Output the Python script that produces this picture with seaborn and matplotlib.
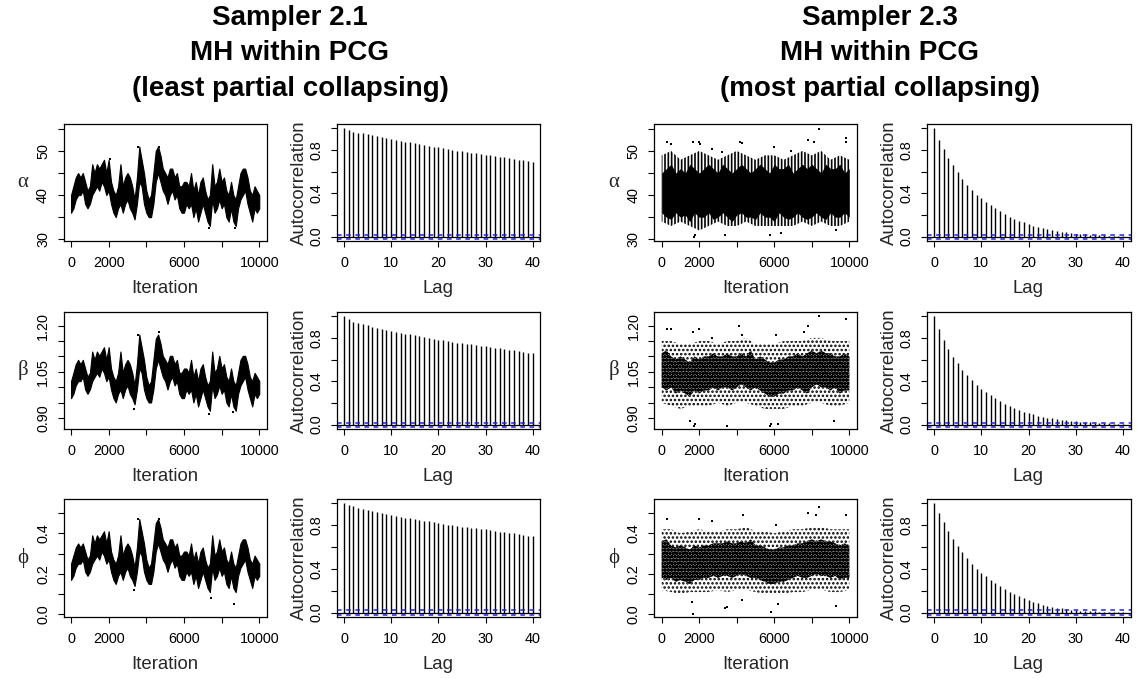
import numpy as np
import pandas as pd
import matplotlib
matplotlib.use("Agg")
import matplotlib.pyplot as plt
import seaborn as sns
from matplotlib.ticker import FixedLocator, FixedFormatter

# ---------------- data ----------------
titles_left = ["Sampler 2.1", "MH within PCG", "(least partial collapsing)"]
titles_right = ["Sampler 2.3", "MH within PCG", "(most partial collapsing)"]
param_labels = ["α", "β", "ϕ"]

# iteration grids of the read envelopes
iter_81 = list(range(0, 10001, 125))
iter_41 = list(range(0, 10001, 250))
iter_21 = list(range(0, 10001, 500))

# Sampler 2.1 trace envelopes (low / high of the dense band), every 125 iterations
a21_lo = [36, 37, 39, 40, 40, 41, 38, 37, 38, 40,
          41, 42, 41, 43, 42, 40, 41, 38, 36, 35,
          37, 38, 36, 38, 39, 37, 36, 34.5, 38, 43,
          42, 38, 36, 35, 35, 38, 43, 45, 43, 41,
          40, 38, 40, 41, 39, 40, 37, 36, 36, 38,
          37, 38, 35, 37, 34, 36, 38, 36, 34, 33,
          39, 36, 37, 39, 37, 38, 35, 34, 37, 34,
          33, 37, 39, 40, 41, 38, 36, 34, 37, 36,
          37]
a21_hi = [40, 42, 44, 45, 44, 45, 43, 41, 42, 47,
          45, 47, 46, 47, 48, 45, 48, 43, 41, 40,
          42, 47, 42, 44, 45, 44, 42, 39, 44, 51,
          48, 45, 41, 39, 40, 45, 50, 51, 49, 46,
          45, 44, 46, 46, 44, 45, 42, 42, 43, 43,
          42, 45, 41, 43, 40, 43, 44, 41, 39, 40,
          47, 42, 43, 46, 43, 44, 41, 40, 43, 40,
          39, 42, 45, 46, 46, 44, 41, 40, 42, 41,
          40]
b21_lo = [0.965, 0.979, 1.006, 1.020, 1.020, 1.034, 0.993, 0.979, 0.993, 1.020,
          1.034, 1.047, 1.034, 1.061, 1.047, 1.020, 1.034, 0.993, 0.965, 0.951,
          0.979, 0.993, 0.965, 0.993, 1.006, 0.979, 0.965, 0.945, 0.993, 1.061,
          1.047, 0.993, 0.965, 0.951, 0.951, 0.993, 1.061, 1.089, 1.061, 1.034,
          1.020, 0.993, 1.020, 1.034, 1.006, 1.020, 0.979, 0.965, 0.965, 0.993,
          0.979, 0.993, 0.951, 0.979, 0.938, 0.965, 0.993, 0.965, 0.938, 0.924,
          1.006, 0.965, 0.979, 1.006, 0.979, 0.993, 0.951, 0.938, 0.979, 0.938,
          0.924, 0.979, 1.006, 1.020, 1.034, 0.993, 0.965, 0.938, 0.979, 0.965,
          0.979]
b21_hi = [1.020, 1.047, 1.075, 1.089, 1.075, 1.089, 1.061, 1.034, 1.047, 1.116,
          1.089, 1.116, 1.102, 1.116, 1.130, 1.089, 1.130, 1.061, 1.034, 1.020,
          1.047, 1.116, 1.047, 1.075, 1.089, 1.075, 1.047, 1.006, 1.075, 1.171,
          1.130, 1.089, 1.034, 1.006, 1.020, 1.089, 1.157, 1.171, 1.143, 1.102,
          1.089, 1.075, 1.102, 1.102, 1.075, 1.089, 1.047, 1.047, 1.061, 1.061,
          1.047, 1.089, 1.034, 1.061, 1.020, 1.061, 1.075, 1.034, 1.006, 1.020,
          1.116, 1.047, 1.061, 1.102, 1.061, 1.075, 1.034, 1.020, 1.061, 1.020,
          1.006, 1.047, 1.089, 1.102, 1.102, 1.075, 1.034, 1.020, 1.047, 1.034,
          1.020]
p21_lo = [0.17, 0.19, 0.23, 0.25, 0.25, 0.27, 0.21, 0.19, 0.21, 0.25,
          0.27, 0.29, 0.27, 0.31, 0.29, 0.25, 0.27, 0.21, 0.17, 0.15,
          0.19, 0.21, 0.17, 0.21, 0.23, 0.19, 0.17, 0.14, 0.21, 0.31,
          0.29, 0.21, 0.17, 0.15, 0.15, 0.21, 0.31, 0.35, 0.31, 0.27,
          0.25, 0.21, 0.25, 0.27, 0.23, 0.25, 0.19, 0.17, 0.17, 0.21,
          0.19, 0.21, 0.15, 0.19, 0.13, 0.17, 0.21, 0.17, 0.13, 0.11,
          0.23, 0.17, 0.19, 0.23, 0.19, 0.21, 0.15, 0.13, 0.19, 0.13,
          0.11, 0.19, 0.23, 0.25, 0.27, 0.21, 0.17, 0.13, 0.19, 0.17,
          0.19]
p21_hi = [0.25, 0.29, 0.33, 0.35, 0.33, 0.35, 0.31, 0.27, 0.29, 0.39,
          0.35, 0.39, 0.37, 0.39, 0.41, 0.35, 0.41, 0.31, 0.27, 0.25,
          0.29, 0.39, 0.29, 0.33, 0.35, 0.33, 0.29, 0.23, 0.33, 0.47,
          0.41, 0.35, 0.27, 0.23, 0.25, 0.35, 0.45, 0.47, 0.43, 0.37,
          0.35, 0.33, 0.37, 0.37, 0.33, 0.35, 0.29, 0.29, 0.31, 0.31,
          0.29, 0.35, 0.27, 0.31, 0.25, 0.31, 0.33, 0.27, 0.23, 0.25,
          0.39, 0.29, 0.31, 0.37, 0.31, 0.33, 0.27, 0.25, 0.31, 0.25,
          0.23, 0.29, 0.35, 0.37, 0.37, 0.33, 0.27, 0.25, 0.29, 0.27,
          0.25]
# isolated extreme draws of Sampler 2.1
a21_out_it = [2050, 3575, 4650, 7330, 8700]
a21_out_val = [48.2, 51.0, 51.0, 32.6, 32.5]
b21_out_it = [3350, 3575, 4650, 7350, 8600]
b21_out_val = [0.930, 1.170, 1.180, 0.915, 0.920]
p21_out_it = [3350, 3575, 4650, 7450, 8670]
p21_out_val = [0.12, 0.47, 0.47, 0.08, 0.05]

# Sampler 2.3 trace envelopes: dense core (every 250) and sparser outer band (every 500)
a23_core_lo = [36, 35, 34.5, 36, 35, 35.5, 34, 36, 35, 35,
               36, 34.5, 35, 36, 35, 34, 35.5, 36, 35, 35,
               34.5, 36, 35, 35, 34, 36, 35, 34.5, 35, 36,
               35, 34.5, 35, 36, 35, 34.5, 36, 35, 35, 36,
               35]
a23_core_hi = [45, 46, 47, 45, 46, 45, 47, 46, 45, 46,
               47, 46, 45, 47, 46, 45, 46, 47, 46, 45,
               46, 47, 46, 45, 47, 46, 46, 47, 45, 46,
               47, 46, 47, 46, 45, 47, 46, 46, 47, 45,
               46]
a23_mid_lo = [34, 33, 34, 33, 32, 33, 34, 33, 33, 34, 33, 33, 33, 33, 33, 34, 33, 34, 33, 33, 34]
a23_mid_hi = [49, 50, 48, 49, 50, 49, 48, 49, 50, 49, 48, 49, 49, 48, 49, 50, 49, 50, 48, 49, 48]
a23_out_it = [270, 500, 1650, 1700, 1750, 2000, 2050, 2700, 3200, 3370, 4150, 4300, 5770,
              6000, 6340, 6900, 7800, 8100, 8400, 9270, 9800, 9850]
a23_out_val = [52.0, 51.5, 52.0, 30.5, 31.0, 52.0, 51.5, 50.5, 49.7, 31.0, 52.0, 51.8, 31.0,
               51.0, 31.5, 50.0, 52.5, 52.0, 55.0, 32.0, 53.0, 52.0]

b23_core_lo = [1.00, 0.99, 1.00, 0.98, 0.99, 0.98, 0.97, 0.99, 0.98, 0.99,
               0.99, 1.00, 0.99, 1.00, 1.00, 0.99, 1.00, 1.01, 1.00, 0.99,
               1.00, 0.99, 0.98, 0.97, 0.97, 0.98, 0.98, 0.99, 0.99, 1.00,
               0.99, 0.98, 1.00, 1.01, 1.00, 1.00, 0.99, 1.00, 0.98, 0.99,
               0.99]
b23_core_hi = [1.11, 1.12, 1.10, 1.09, 1.10, 1.09, 1.08, 1.10, 1.09, 1.10,
               1.10, 1.11, 1.10, 1.10, 1.11, 1.10, 1.10, 1.11, 1.10, 1.12,
               1.09, 1.10, 1.09, 1.08, 1.08, 1.09, 1.09, 1.10, 1.10, 1.11,
               1.10, 1.11, 1.12, 1.11, 1.12, 1.11, 1.11, 1.10, 1.10, 1.11,
               1.10]
b23_mid_lo = [0.95, 0.94, 0.93, 0.94, 0.94, 0.94, 0.95, 0.94, 0.95, 0.95, 0.94, 0.93, 0.93,
              0.93, 0.94, 0.94, 0.95, 0.95, 0.94, 0.94, 0.95]
b23_mid_hi = [1.15, 1.15, 1.14, 1.14, 1.15, 1.15, 1.14, 1.15, 1.15, 1.16, 1.14, 1.14, 1.14,
              1.15, 1.15, 1.15, 1.16, 1.16, 1.15, 1.15, 1.15]
b23_out_it = [300, 500, 1500, 1650, 1700, 1750, 2000, 2700, 3500, 4100, 4300, 5750, 5800,
              6100, 6200, 7600, 7800, 8400, 9200, 9800]
b23_out_val = [1.19, 1.19, 0.89, 1.18, 0.875, 0.88, 1.19, 1.16, 0.875, 1.20, 1.17, 0.875,
               0.88, 1.17, 0.88, 1.18, 1.20, 1.23, 0.89, 1.22]

p23_core_lo = [0.18, 0.17, 0.18, 0.16, 0.17, 0.16, 0.15, 0.17, 0.17, 0.18,
               0.18, 0.19, 0.18, 0.19, 0.19, 0.18, 0.19, 0.20, 0.19, 0.18,
               0.18, 0.17, 0.16, 0.15, 0.15, 0.16, 0.16, 0.17, 0.18, 0.19,
               0.18, 0.18, 0.19, 0.20, 0.19, 0.19, 0.18, 0.19, 0.17, 0.18,
               0.18]
p23_core_hi = [0.36, 0.37, 0.34, 0.33, 0.34, 0.33, 0.32, 0.34, 0.33, 0.34,
               0.34, 0.35, 0.35, 0.35, 0.36, 0.35, 0.35, 0.36, 0.35, 0.37,
               0.34, 0.34, 0.33, 0.32, 0.32, 0.33, 0.33, 0.34, 0.34, 0.35,
               0.35, 0.36, 0.37, 0.36, 0.37, 0.36, 0.36, 0.35, 0.34, 0.35,
               0.34]
p23_mid_lo = [0.12, 0.11, 0.10, 0.11, 0.11, 0.11, 0.12, 0.11, 0.12, 0.12, 0.11, 0.10, 0.10,
              0.10, 0.11, 0.11, 0.12, 0.12, 0.11, 0.11, 0.12]
p23_mid_hi = [0.42, 0.42, 0.40, 0.41, 0.42, 0.41, 0.41, 0.42, 0.42, 0.43, 0.41, 0.41, 0.40,
              0.41, 0.42, 0.42, 0.43, 0.43, 0.42, 0.42, 0.42]
p23_out_it = [300, 1600, 1650, 2000, 2700, 3400, 3500, 4300, 4320, 5800, 6100, 6200, 7800,
              8200, 8400, 9300, 9800]
p23_out_val = [0.47, 0.06, 0.00, 0.47, 0.46, 0.03, 0.035, 0.07, 0.49, 0.01, 0.44, 0.05, 0.50,
               0.49, 0.53, 0.04, 0.49]

# autocorrelations, lags 0..40
lags = list(range(41))
acf_a21 = [1.0, 0.982, 0.967, 0.960, 0.954, 0.945, 0.936, 0.928, 0.920, 0.912, 0.902, 0.893,
           0.885, 0.877, 0.870, 0.862, 0.855, 0.847, 0.840, 0.832, 0.824, 0.817, 0.810, 0.802,
           0.795, 0.788, 0.782, 0.776, 0.770, 0.762, 0.754, 0.750, 0.745, 0.740, 0.735, 0.727,
           0.720, 0.712, 0.705, 0.699, 0.693]
acf_b21 = [1.0, 0.976, 0.950, 0.940, 0.930, 0.918, 0.906, 0.895, 0.885, 0.876, 0.867, 0.858,
           0.850, 0.841, 0.833, 0.825, 0.818, 0.809, 0.800, 0.792, 0.785, 0.777, 0.770, 0.763,
           0.757, 0.751, 0.745, 0.740, 0.736, 0.730, 0.724, 0.718, 0.712, 0.704, 0.697, 0.691,
           0.685, 0.679, 0.673, 0.666, 0.660]
acf_p21 = [1.0, 0.988, 0.973, 0.960, 0.950, 0.940, 0.930, 0.921, 0.912, 0.904, 0.897, 0.887,
           0.878, 0.870, 0.863, 0.857, 0.851, 0.843, 0.836, 0.828, 0.820, 0.812, 0.805, 0.799,
           0.793, 0.786, 0.780, 0.776, 0.772, 0.767, 0.763, 0.755, 0.748, 0.742, 0.736, 0.731,
           0.727, 0.719, 0.711, 0.705, 0.700]
acf_a23 = [1.0, 0.890, 0.805, 0.723, 0.657, 0.593, 0.535, 0.480, 0.435, 0.389, 0.359, 0.322,
           0.292, 0.261, 0.237, 0.213, 0.185, 0.167, 0.146, 0.131, 0.116, 0.100, 0.088, 0.079,
           0.070, 0.061, 0.052, 0.046, 0.040, 0.033, 0.027, 0.024, 0.021, 0.018, 0.016, 0.014,
           0.012, 0.010, 0.008, 0.007, 0.006]
acf_b23 = [1.0, 0.885, 0.785, 0.697, 0.627, 0.567, 0.506, 0.455, 0.412, 0.370, 0.333, 0.303,
           0.270, 0.242, 0.218, 0.194, 0.170, 0.152, 0.133, 0.118, 0.106, 0.094, 0.082, 0.073,
           0.064, 0.058, 0.052, 0.045, 0.040, 0.033, 0.030, 0.027, 0.024, 0.020, 0.018, 0.015,
           0.013, 0.011, 0.010, 0.008, 0.006]
acf_p23 = [1.0, 0.916, 0.830, 0.748, 0.678, 0.610, 0.553, 0.498, 0.449, 0.403, 0.366, 0.333,
           0.300, 0.269, 0.241, 0.217, 0.192, 0.171, 0.150, 0.131, 0.113, 0.098, 0.086, 0.073,
           0.064, 0.055, 0.046, 0.040, 0.034, 0.027, 0.021, 0.018, 0.016, 0.014, 0.012, 0.010,
           0.009, 0.008, 0.007, 0.006, 0.005]
ci_bound = 0.0196

# axis ticks / labels
iter_ticks = [0, 2000, 4000, 6000, 8000, 10000]
iter_ticklabels = ["0", "2000", "", "6000", "", "10000"]
lag_ticks = [0, 10, 20, 30, 40]
lag_ticklabels = ["0", "10", "20", "30", "40"]
acf_ticks = [0.0, 0.2, 0.4, 0.6, 0.8, 1.0]
acf_ticklabels = ["0.0", "", "0.4", "", "0.8", ""]
a_ticks = [30, 35, 40, 45, 50, 55]
a_ticklabels = ["30", "", "40", "", "50", ""]
b_ticks = [0.90, 0.95, 1.00, 1.05, 1.10, 1.15, 1.20]
b_ticklabels = ["0.90", "", "", "1.05", "", "", "1.20"]
p_ticks = [0.0, 0.1, 0.2, 0.3, 0.4, 0.5]
p_ticklabels = ["0.0", "", "0.2", "", "0.4", ""]

# ---------------- style ----------------
sns.set_style("ticks")
plt.rcParams["font.family"] = ["Liberation Sans", "DejaVu Sans"]
plt.rcParams["axes.edgecolor"] = "black"
plt.rcParams["axes.linewidth"] = 0.9
plt.rcParams["xtick.color"] = "black"
plt.rcParams["ytick.color"] = "black"
plt.rcParams["text.color"] = "black"
plt.rcParams["hatch.linewidth"] = 1.2
plt.rcParams["hatch.color"] = "black"

W, H = 1137, 679
fig = plt.figure(figsize=(W / 100, H / 100), dpi=100)

TICK_FS = 10.4
LAB_FS = 13.4


def add_ax(x0, x1, y0, y1):
    return fig.add_axes([x0 / W, 1 - y1 / H, (x1 - x0) / W, (y1 - y0) / H])


def style_ax(ax, xt, xtl, yt, ytl):
    ax.xaxis.set_major_locator(FixedLocator(xt))
    ax.xaxis.set_major_formatter(FixedFormatter(xtl))
    ax.yaxis.set_major_locator(FixedLocator(yt))
    ax.yaxis.set_major_formatter(FixedFormatter(ytl))
    ax.tick_params(axis="both", direction="out", length=4.2, width=0.8,
                   labelsize=TICK_FS, colors="black")
    ax.tick_params(axis="x", pad=6.5)
    ax.tick_params(axis="y", pad=5.5)
    for lab in ax.get_yticklabels():
        lab.set_rotation(90)
        lab.set_va("center")
    for s in ax.spines.values():
        s.set_visible(True)
        s.set_color("black")
        s.set_linewidth(0.9)


cols_x = [(63.5, 266.8), (336.5, 540.2), (654.2, 856.8), (926.5, 1130.5)]
rows_y = [(124, 241), (312, 429), (499, 617)]

ylims = [(29.6, 56.1), (0.865, 1.244), (-0.013, 0.569)]
yticks = [(a_ticks, a_ticklabels), (b_ticks, b_ticklabels), (p_ticks, p_ticklabels)]

env21 = [(a21_lo, a21_hi, a21_out_it, a21_out_val),
         (b21_lo, b21_hi, b21_out_it, b21_out_val),
         (p21_lo, p21_hi, p21_out_it, p21_out_val)]
env23 = [(a23_core_lo, a23_core_hi, a23_mid_lo, a23_mid_hi, a23_out_it, a23_out_val),
         (b23_core_lo, b23_core_hi, b23_mid_lo, b23_mid_hi, b23_out_it, b23_out_val),
         (p23_core_lo, p23_core_hi, p23_mid_lo, p23_mid_hi, p23_out_it, p23_out_val)]
acfs21 = [acf_a21, acf_b21, acf_p21]
acfs23 = [acf_a23, acf_b23, acf_p23]
# texture of the dot clouds of Sampler 2.3 (dense core / sparse fringe)
core_hatch = [None, "ooooo", "ooooo"]
mid_hatch = ["|||||", "....", "...."]


def draw_acf(ax, acf):
    ax.vlines(lags, 0, acf, color="black", linewidth=1.0)
    ax.axhline(0, color="black", linewidth=0.9)
    for b in (ci_bound, -ci_bound):
        ax.axhline(b, color="#2020e0", linewidth=1.1, linestyle=(0, (3, 3)))
    ax.set_xlim(-1.6, 41.6)
    ax.set_ylim(-0.04, 1.04)
    style_ax(ax, lag_ticks, lag_ticklabels, acf_ticks, acf_ticklabels)
    ax.set_xlabel("Lag", fontsize=LAB_FS, labelpad=7.5)
    ax.set_ylabel("Autocorrelation", fontsize=LAB_FS, labelpad=1)


def finish_trace(ax, i):
    ax.set_xlim(-400, 10400)
    ax.set_ylim(*ylims[i])
    style_ax(ax, iter_ticks, iter_ticklabels, yticks[i][0], yticks[i][1])
    ax.set_xlabel("Iteration", fontsize=LAB_FS, labelpad=7.5)
    ax.set_ylabel(param_labels[i], fontsize=15, rotation=0,
                  fontfamily=["Liberation Serif", "DejaVu Serif"], ha="center", va="center")
    ax.yaxis.set_label_coords(-0.2, 0.5)


for i in range(3):
    y0, y1 = rows_y[i]
    # ---- Sampler 2.1 trace
    ax = add_ax(*cols_x[0], y0, y1)
    lo, hi, oit, oval = env21[i]
    ax.fill_between(iter_81, lo, hi, color="black", linewidth=0.8, edgecolor="black")
    sns.scatterplot(x=oit, y=oval, ax=ax, color="black", marker="s", s=4,
                    linewidth=0, legend=False)
    finish_trace(ax, i)
    # ---- Sampler 2.1 acf
    ax = add_ax(*cols_x[1], y0, y1)
    draw_acf(ax, acfs21[i])
    # ---- Sampler 2.3 trace
    ax = add_ax(*cols_x[2], y0, y1)
    clo, chi, mlo, mhi, oit, oval = env23[i]
    ax.fill_between(iter_21, mlo, mhi, facecolor="none", edgecolor="black",
                    hatch=mid_hatch[i], linewidth=0)
    if core_hatch[i] is None:
        ax.fill_between(iter_41, clo, chi, color="black", linewidth=0)
    else:
        ax.fill_between(iter_41, clo, chi, facecolor="#909090", edgecolor="black",
                        hatch=core_hatch[i], linewidth=0)
    sns.scatterplot(x=oit, y=oval, ax=ax, color="black", marker="s", s=4,
                    linewidth=0, legend=False)
    finish_trace(ax, i)
    # ---- Sampler 2.3 acf
    ax = add_ax(*cols_x[3], y0, y1)
    draw_acf(ax, acfs23[i])

# titles
title_y = [18, 53, 89]
for k in range(3):
    fig.text(290 / W, 1 - title_y[k] / H, titles_left[k], ha="center", va="center",
             fontsize=20, fontweight="bold")
    fig.text(880 / W, 1 - title_y[k] / H, titles_right[k], ha="center", va="center",
             fontsize=20, fontweight="bold")

fig.savefig("out.png", dpi=100, facecolor="white")
